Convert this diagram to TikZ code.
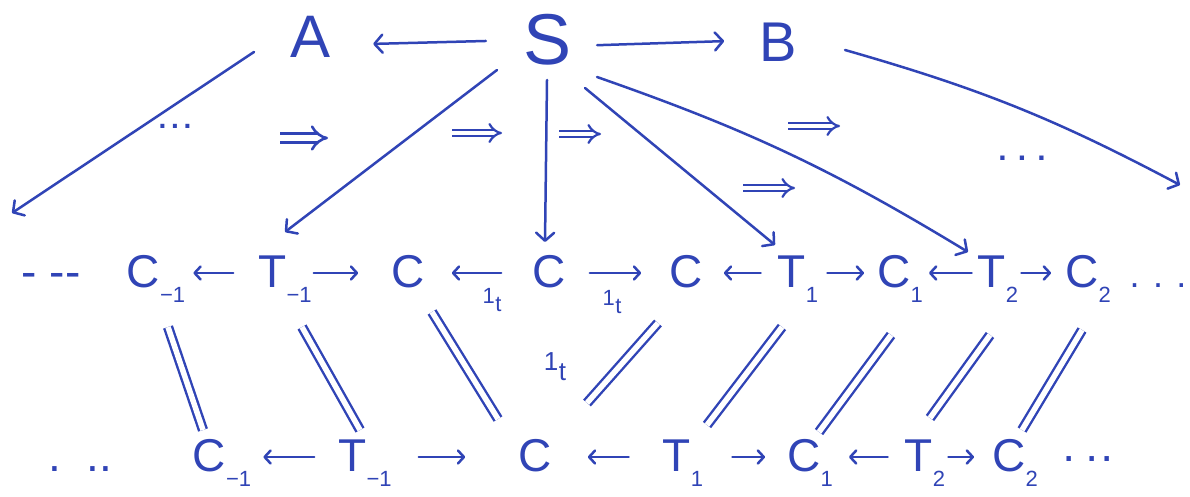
\documentclass[tikz,border=0pt]{standalone}
\usepackage{fontspec}
\setmainfont{Liberation Sans}
\usetikzlibrary{arrows.meta}
\definecolor{pen}{RGB}{48,68,182}
\newcommand\lsub[1]{\raisebox{-15pt}{\fontsize{22}{22}\selectfont #1}}
\newcommand\idt[1]{1\kern0.5pt\raisebox{#1}{t}}
\begin{document}
\begin{tikzpicture}[x=1pt,y=-1pt, line cap=round, line join=round,
  every node/.style={inner sep=0pt, text=pen},
  top/.style={font=\fontsize{60}{60}\selectfont},
  row/.style={font=\fontsize{46}{46}\selectfont, text height=30pt, text depth=2pt},
  lab/.style={font=\fontsize{22}{22}\selectfont},
  ar/.style={draw=pen, line width=2.5pt, -{Straight Barb[length=8pt,width=18pt,round]}},
  sar/.style={draw=pen, line width=2.5pt, -{Straight Barb[length=6pt,width=13pt,round]}},
  eq/.style={draw=pen, line width=2.4pt, line cap=butt, double=white, double distance=5.5pt},
  cell/.style={draw=pen, line width=2.2pt, line cap=butt, double=white, double distance=4.5pt, -{Implies}},
]
\fill[white] (0,0) rectangle (1190,497);
\useasboundingbox (0,0) rectangle (1190,497);

% top row
\node[top] (A) at (311,37) {A};
\node[top, font=\fontsize{72}{72}\selectfont] (S) at (548,40) {S};
\node[top, font=\fontsize{56}{56}\selectfont] (B) at (778,42) {B};

% middle row
\node[row] (mdL) at (51,273) {- -{}-};
\node[row] (mCm) at (156,273) {C\lsub{−1}};
\node[row] (mTm) at (285,273) {T\lsub{−1}};
\node[row] (mCl) at (408,273) {C};
\node[row] (mC) at (549,273) {C};
\node[row] (mCr) at (686,273) {C};
\node[row] (mT1) at (798,273) {T\lsub{1}};
\node[row] (mC1) at (900,273) {C\lsub{1}};
\node[row] (mT2) at (998,273) {T\lsub{2}};
\node[row] (mC2) at (1088,273) {C\lsub{2}};
\node[row, font=\fontsize{36}{36}\selectfont] (mdR) at (1158,273) {. . .};

% bottom row
\node[row] (bdL) at (80,457) {.\ \ ..};
\node[row] (bCm) at (222,457) {C\lsub{−1}};
\node[row] (bTm) at (365,457) {T\lsub{−1}};
\node[row] (bC) at (535,457) {C};
\node[row] (bT1) at (683,457) {T\lsub{1}};
\node[row] (bC1) at (810,457) {C\lsub{1}};
\node[row] (bT2) at (925,457) {T\lsub{2}};
\node[row] (bC2) at (1015,457) {C\lsub{2}};
\node[row] (bdR) at (1088,457) {·\,··};

% labels and dots
\node[lab] (l1) at (492,300) {\idt{-8pt}};
\node[lab] (l2) at (612,302) {\idt{-8pt}};
\node[lab, font=\fontsize{26}{26}\selectfont] (l3) at (555,367) {\idt{-10pt}};
\node[lab, font=\fontsize{28}{28}\bfseries] (dots1) at (175,126) {.\,.\,.};
\node[lab, font=\fontsize{30}{30}\bfseries] (dots2) at (1022,158) {. . .};

% top arrows
\draw[ar, shorten <=38pt, shorten >=42pt] (S.west) -- ([shift={(0,8)}]A.east);
\draw[ar, shorten <=25pt, shorten >=35pt] ([shift={(0,6)}]S.east) -- ([shift={(0,-2)}]B.west);

% diagonal arrows
\coordinate (farL) at (12,213);
\coordinate (farR) at (1180,185);
\draw[ar] ([shift={(-57,15)}]A.center) -- (farL);
\draw[ar] ([shift={(67,8)}]B.center) to[bend left=6] (farR);
\draw[ar] ([shift={(-51,30)}]S.center) -- ([shift={(0,-41)}]mTm.center);
\draw[ar] ([shift={(-1,40)}]S.center) -- ([shift={(-4,-31)}]mC.center);
\draw[ar] ([shift={(37,48)}]S.center) -- ([shift={(-23,-28)}]mT1.center);
\draw[ar] ([shift={(49,37)}]S.center) to[bend left=6] ([shift={(-30,-21)}]mT2.center);

% middle row arrows
\draw[sar, shorten <=25pt, shorten >=8pt] (mTm) -- (mCm);
\draw[sar, shorten <=2pt, shorten >=33pt] (mTm) -- (mCl);
\draw[sar, shorten <=31pt, shorten >=27pt] (mC) -- (mCl);
\draw[sar, shorten <=24pt, shorten >=28pt] (mC) -- (mCr);
\draw[sar, shorten <=17pt, shorten >=21pt] (mT1) -- (mCr);
\draw[sar, shorten <=9pt, shorten >=13pt] (mT1) -- (mC1);
\draw[sar, shorten <=6pt, shorten >=6pt] (mT2) -- (mC1);
\draw[sar, shorten <=3pt, shorten >=14pt] (mT2) -- (mC2);

% bottom row arrows
\draw[sar, shorten <=24pt, shorten >=12pt] (bTm) -- (bCm);
\draw[sar, shorten <=27pt, shorten >=53pt] (bTm) -- (bC);
\draw[sar, shorten <=34pt, shorten >=36pt] (bT1) -- (bC);
\draw[sar, shorten <=29pt, shorten >=22pt] (bT1) -- (bC1);
\draw[sar, shorten <=17pt, shorten >=16pt] (bT2) -- (bC1);
\draw[sar, shorten <=3pt, shorten >=18pt] (bT2) -- (bC2);

% equalities
\draw[eq] ([shift={(12,54)}]mCm.center) -- ([shift={(-19,-27)}]bCm.center);
\draw[eq] ([shift={(17,54)}]mTm.center) -- ([shift={(-5,-27)}]bTm.center);
\draw[eq] ([shift={(24,39)}]mCl.center) -- ([shift={(-37,-38)}]bC.center);
\draw[eq] ([shift={(-28,50)}]mCr.center) -- ([shift={(52,-54)}]bC.center);
\draw[eq] ([shift={(-16,54)}]mT1.center) -- ([shift={(24,-32)}]bT1.center);
\draw[eq] ([shift={(-9,62)}]mC1.center) -- ([shift={(9,-25)}]bC1.center);
\draw[eq] ([shift={(-8,62)}]mT2.center) -- ([shift={(5,-39)}]bT2.center);
\draw[eq] ([shift={(-6,57)}]mC2.center) -- ([shift={(7,-27)}]bC2.center);

% 2-cells
\coordinate (c1s) at (280,138); \coordinate (c1e) at (328,138);
\coordinate (c2s) at (452,133); \coordinate (c2e) at (502,133);
\coordinate (c3s) at (559,134); \coordinate (c3e) at (601,134);
\coordinate (c4s) at (788,126); \coordinate (c4e) at (840,126);
\coordinate (c5s) at (743,188); \coordinate (c5e) at (795,188);
\draw[cell, line width=2.6pt, double distance=6pt] (c1s) -- (c1e);
\draw[cell] (c2s) -- (c2e);
\draw[cell] (c3s) -- (c3e);
\draw[cell] (c4s) -- (c4e);
\draw[cell] (c5s) -- (c5e);
\end{tikzpicture}
\end{document}
